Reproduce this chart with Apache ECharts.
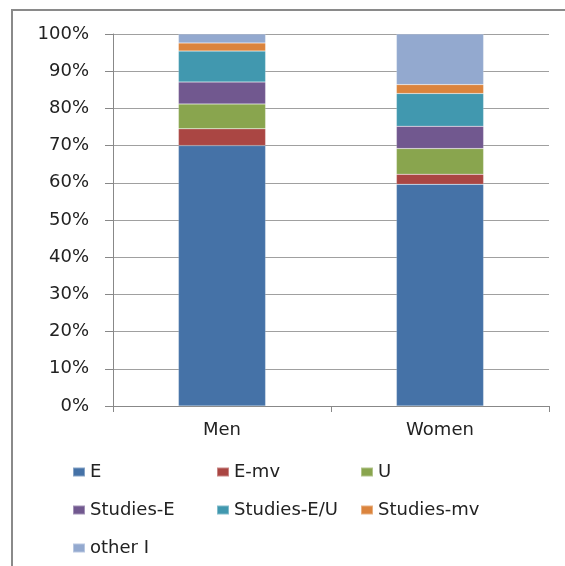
<!DOCTYPE html>
<html><head><meta charset="utf-8">
<script src="https://cdn.jsdelivr.net/npm/echarts@6/dist/echarts.min.js"></script>
<style>html,body{margin:0;padding:0;background:#fff}#c{width:565px;height:566px}</style>
</head><body><div id="c"></div>
<script>
var categories = ['Men', 'Women'];
var seriesNames = ['E', 'E-mv', 'U', 'Studies-E', 'Studies-E/U', 'Studies-mv', 'other I'];
var E = [70.0, 59.6];
var E_mv = [4.5, 2.7];
var U = [6.7, 6.9];
var Studies_E = [5.9, 6.0];
var Studies_EU = [8.3, 8.8];
var Studies_mv = [2.2, 2.4];
var Other_I = [2.4, 13.6];
var yTicks = [0, 10, 20, 30, 40, 50, 60, 70, 80, 90, 100];

var values = [E, E_mv, U, Studies_E, Studies_EU, Studies_mv, Other_I];
var colors = ['#4572A7', '#AA4643', '#89A54E', '#71588F', '#4198AF', '#DB843D', '#93A9CF'];
var font = 'DejaVu Sans';

var chart = echarts.init(document.getElementById('c'));
chart.setOption({
  animation: false,
  textStyle: {fontFamily: font},
  graphic: [{type: 'rect', shape: {x: 12, y: 10, width: 620, height: 620}, style: {fill: 'none', stroke: '#8a8a8a', lineWidth: 2}, silent: true}],
  grid: {left: 113, right: 16, top: 34, bottom: 160, containLabel: false},
  xAxis: {
    type: 'category', data: categories,
    axisLine: {lineStyle: {color: '#888'}},
    axisTick: {show: true, length: 6, lineStyle: {color: '#888'}},
    axisLabel: {color: '#222', fontSize: 18, fontFamily: font, margin: 15}
  },
  yAxis: {
    type: 'value', min: yTicks[0], max: yTicks[yTicks.length - 1], interval: 10,
    axisLine: {show: true, lineStyle: {color: '#888'}},
    axisTick: {show: true, length: 8, lineStyle: {color: '#888'}},
    axisLabel: {color: '#222', fontSize: 18, fontFamily: font, margin: 24, formatter: '{value}%'},
    splitLine: {lineStyle: {color: '#a0a0a0', width: 1}}
  },
  legend: {
    data: seriesNames,
    left: 67, top: 451, width: 440,
    orient: 'horizontal',
    itemWidth: 12, itemHeight: 9, itemGap: 6,
    icon: 'rect',
    textStyle: {color: '#222', fontSize: 18, fontFamily: font, width: 120, lineHeight: 32}
  },
  series: seriesNames.map(function (n, i) {
    return {
      name: n, type: 'bar', stack: 'total', barWidth: '40%',
      itemStyle: {color: colors[i], borderColor: 'rgba(255,255,255,0.35)', borderWidth: 0.5},
      data: values[i]
    };
  })
});
</script></body></html>
